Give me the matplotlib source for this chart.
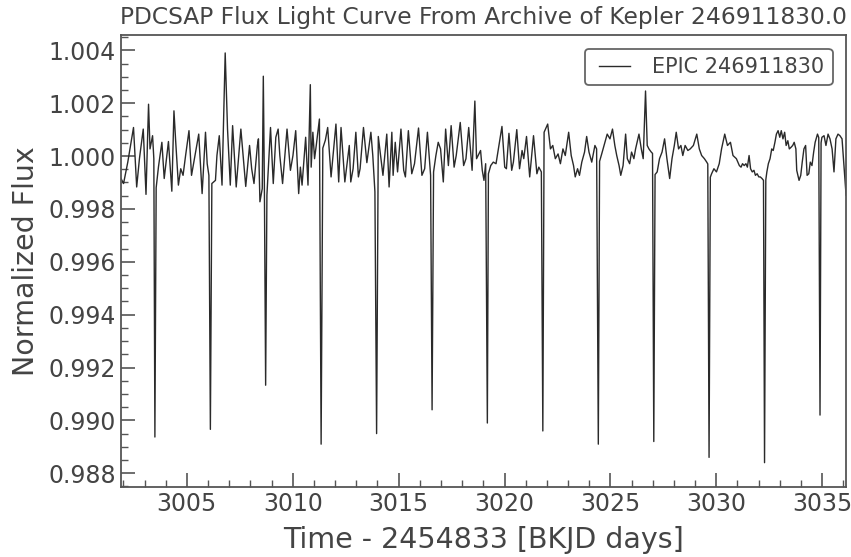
import numpy as np
import matplotlib
matplotlib.use("Agg")
from matplotlib import pyplot as plt
from matplotlib.ticker import MultipleLocator, FormatStrFormatter
from matplotlib.legend_handler import HandlerLine2D

# time in BKJD days (BJD - 2454833)
time = [
    3001.89, 3002.01, 3002.21, 3002.48, 3002.63, 3002.76, 3002.94, 3003.07, 3003.19, 3003.26,
    3003.38, 3003.44, 3003.49, 3003.55, 3003.66,
    3003.82, 3003.93, 3004.13, 3004.29, 3004.39, 3004.47, 3004.60, 3004.71, 3004.82, 3004.94,
    3005.10, 3005.22, 3005.41, 3005.56, 3005.72, 3005.88, 3005.96, 3006.04, 3006.11, 3006.18,
    3006.35, 3006.42, 3006.53, 3006.66, 3006.81, 3006.92, 3007.05, 3007.16, 3007.33, 3007.55,
    3007.78, 3007.96, 3008.06, 3008.17, 3008.33, 3008.38, 3008.45, 3008.56, 3008.61, 3008.66,
    3008.72, 3008.78,
    3008.95, 3009.08, 3009.20, 3009.31, 3009.39, 3009.52, 3009.73, 3009.89, 3010.01, 3010.14,
    3010.28, 3010.36, 3010.44, 3010.61, 3010.72, 3010.83, 3010.87, 3010.95, 3011.03, 3011.11,
    3011.26, 3011.34, 3011.42,
    3011.54, 3011.65, 3011.81, 3012.04, 3012.17, 3012.28, 3012.35, 3012.46, 3012.67, 3012.74,
    3012.85, 3012.98, 3013.10, 3013.18, 3013.34, 3013.50, 3013.69, 3013.78, 3013.88, 3013.96,
    3014.04,
    3014.15, 3014.26, 3014.44, 3014.55, 3014.68, 3014.74, 3014.84, 3014.95, 3015.11, 3015.24,
    3015.32, 3015.46, 3015.62, 3015.75, 3015.94, 3016.10, 3016.23, 3016.36, 3016.51, 3016.58,
    3016.65,
    3016.76, 3016.87, 3016.98, 3017.11, 3017.22, 3017.35, 3017.48, 3017.62, 3017.72, 3017.91,
    3018.07, 3018.18, 3018.31, 3018.47, 3018.60, 3018.68, 3018.87, 3018.95, 3019.03, 3019.11,
    3019.19, 3019.24,
    3019.35, 3019.47, 3019.60, 3019.71, 3019.88, 3020.01, 3020.09, 3020.21, 3020.34, 3020.42,
    3020.58, 3020.71, 3020.83, 3020.91, 3021.04, 3021.19, 3021.37, 3021.53, 3021.62, 3021.74,
    3021.81, 3021.87,
    3022.04, 3022.17, 3022.28, 3022.40, 3022.53, 3022.64, 3022.76, 3022.87, 3023.03, 3023.15,
    3023.26, 3023.34, 3023.45, 3023.54, 3023.65, 3023.78, 3023.88, 3023.99, 3024.12, 3024.27,
    3024.35, 3024.43, 3024.49,
    3024.59, 3024.74, 3024.85, 3024.98, 3025.10, 3025.21, 3025.30, 3025.41, 3025.49, 3025.60,
    3025.72, 3025.80, 3025.91, 3026.00, 3026.11, 3026.19, 3026.35, 3026.46, 3026.55, 3026.66,
    3026.74, 3026.82, 3026.93, 3026.99, 3027.05, 3027.11,
    3027.21, 3027.32, 3027.44, 3027.56, 3027.67, 3027.80, 3027.91, 3028.02, 3028.11, 3028.22,
    3028.33, 3028.42, 3028.53, 3028.66, 3028.77, 3028.92, 3029.08, 3029.20, 3029.31, 3029.44,
    3029.55, 3029.60, 3029.66, 3029.72,
    3029.78, 3029.89, 3030.01, 3030.14, 3030.25, 3030.40, 3030.53, 3030.67, 3030.79, 3030.95,
    3031.09, 3031.17, 3031.24, 3031.32, 3031.40, 3031.47, 3031.55, 3031.62, 3031.70, 3031.78,
    3031.85, 3031.93, 3032.01, 3032.08, 3032.16, 3032.23, 3032.28, 3032.34,
    3032.39, 3032.46, 3032.54, 3032.62, 3032.69, 3032.77, 3032.84, 3032.92, 3033.00, 3033.07,
    3033.15, 3033.23, 3033.30, 3033.38, 3033.45, 3033.53, 3033.61, 3033.68, 3033.76, 3033.80,
    3033.91, 3033.99, 3034.06, 3034.14, 3034.22, 3034.29, 3034.37, 3034.44, 3034.52, 3034.60,
    3034.67, 3034.78, 3034.84, 3034.90, 3034.95,
    3034.99, 3035.09, 3035.18, 3035.28, 3035.37, 3035.47, 3035.56, 3035.65, 3035.75, 3035.84,
    3035.94, 3036.03, 3036.13,
]

# normalized flux minus one, in units of 1e-5
dflux = [
    -85, -104, -23, 108, -117, -10, 102, -145, 196, 27,
    77, -10, -1063, -120, -40,
    52, -85, 55, -133, 171, 58, -110, -48, -73, 2,
    96, -73, 15, 83, -142, 90, -29, -73, -1034, -104,
    -92, 2, 77, -110, 390, 102, -110, 115, -117, 102,
    -115, 40, -48, -104, 40, 65, -173, -123, 302, -110,
    -867, -148,
    108, -104, 71, 102, 2, -104, 102, -54, 2, 96,
    -142, -42, -110, 71, -110, 270, -42, 90, -10, 40,
    140, -1090, 30,
    60, 108, -79, 121, -98, 108, 27, -98, 40, -98,
    -48, 90, -79, -48, 108, -25, 90, 2, -135, -1050,
    74,
    2, -73, 83, -117, 90, -73, 52, -60, 102, -54,
    -79, 96, -67, -29, 106, -73, -48, 90, -73, -960,
    -60,
    2, 52, 27, -98, 102, -36, 115, -42, 2, 127,
    -36, -10, 108, -54, 208, -10, 21, -54, -92, -29,
    -1010, -67,
    -36, -23, -29, 27, 112, -42, -48, 86, -54, -23,
    100, -48, 21, -10, 74, -79, 77, -67, -42, -60,
    -1040, 90,
    121, 27, 40, -10, 8, -29, 27, 2, 90, 2,
    -36, -79, -48, -73, -23, 15, 74, 15, -23, 40,
    27, -1090, -20,
    8, 52, 83, 65, 102, 40, 2, -36, -73, -36,
    83, -10, -29, 15, -10, 27, 83, 27, -10, 246,
    40, 27, 15, 10, -1080, -70,
    -60, -10, 15, 65, -10, -85, -10, 40, 90, 27,
    40, 2, 40, 21, 27, 40, 83, 27, 2, -10,
    -23, -30, -1140, -80,
    -67, -48, -60, -29, 27, 83, 40, 52, 2, -10,
    -36, -42, -29, -36, -29, -42, 2, -48, -60, -54,
    -73, -67, -79, -79, -85, -92, -1160, -90,
    -60, -29, -10, 27, 21, 52, 83, 96, 71, 96,
    65, 90, 40, 58, 27, 33, 40, 52, 27, -54,
    -92, -73, -23, 27, 40, -73, -67, -23, -36, 15,
    52, 83, 70, -980, 50,
    71, 77, 40, 83, 65, 27, -60, 65, 83, 77,
    65, -36, -148,
]

label = "EPIC 246911830"
title = "PDCSAP Flux Light Curve From Archive of Kepler 246911830.0"

flux = 1 + np.array(dflux) * 1e-5

plt.rcParams['font.family'] = ['DejaVu Sans']
text_color = '#444444'
edge_color = '#555555'

fig = plt.figure(figsize=(8.51, 5.57), dpi=100)
ax = fig.add_axes([0.1422, 0.1257, 0.852, 0.8115])

line, = ax.plot(time, flux, color='#2a2a2a', linewidth=1.0, label=label)

ax.set_xlim(time[0], time[-1])
ax.set_ylim(0.98748, 1.00458)

ax.xaxis.set_major_locator(MultipleLocator(5))
ax.xaxis.set_minor_locator(MultipleLocator(1))
ax.xaxis.set_major_formatter(FormatStrFormatter('%d'))
ax.yaxis.set_major_locator(MultipleLocator(0.002))
ax.yaxis.set_minor_locator(MultipleLocator(0.0005))
ax.yaxis.set_major_formatter(FormatStrFormatter('%.3f'))

ax.tick_params(which='both', direction='in', color=edge_color, labelcolor=text_color,
               labelsize=17)
ax.tick_params(which='major', length=10, width=1.2)
ax.tick_params(which='minor', length=5, width=1.0)
for sp in ax.spines.values():
    sp.set_color(edge_color)
    sp.set_linewidth(1.3)

ax.set_xlabel("Time - 2454833 [BKJD days]", fontsize=20.5, color=text_color, labelpad=7)
ax.set_ylabel("Normalized Flux", fontsize=20.5, color=text_color, labelpad=6)
ax.set_title(title, fontsize=16.8, color=text_color, pad=8)

leg = ax.legend(loc='upper right', fontsize=15, handlelength=1.76, handletextpad=1.06,
                borderpad=0.4, borderaxespad=0.65, fancybox=True, framealpha=1.0,
                handler_map={line: HandlerLine2D(xpad=0.27)})
leg.get_frame().set_edgecolor('#666666')
leg.get_frame().set_linewidth(1.3)
for txt in leg.get_texts():
    txt.set_color(text_color)

fig.savefig("out.png", dpi=100)
